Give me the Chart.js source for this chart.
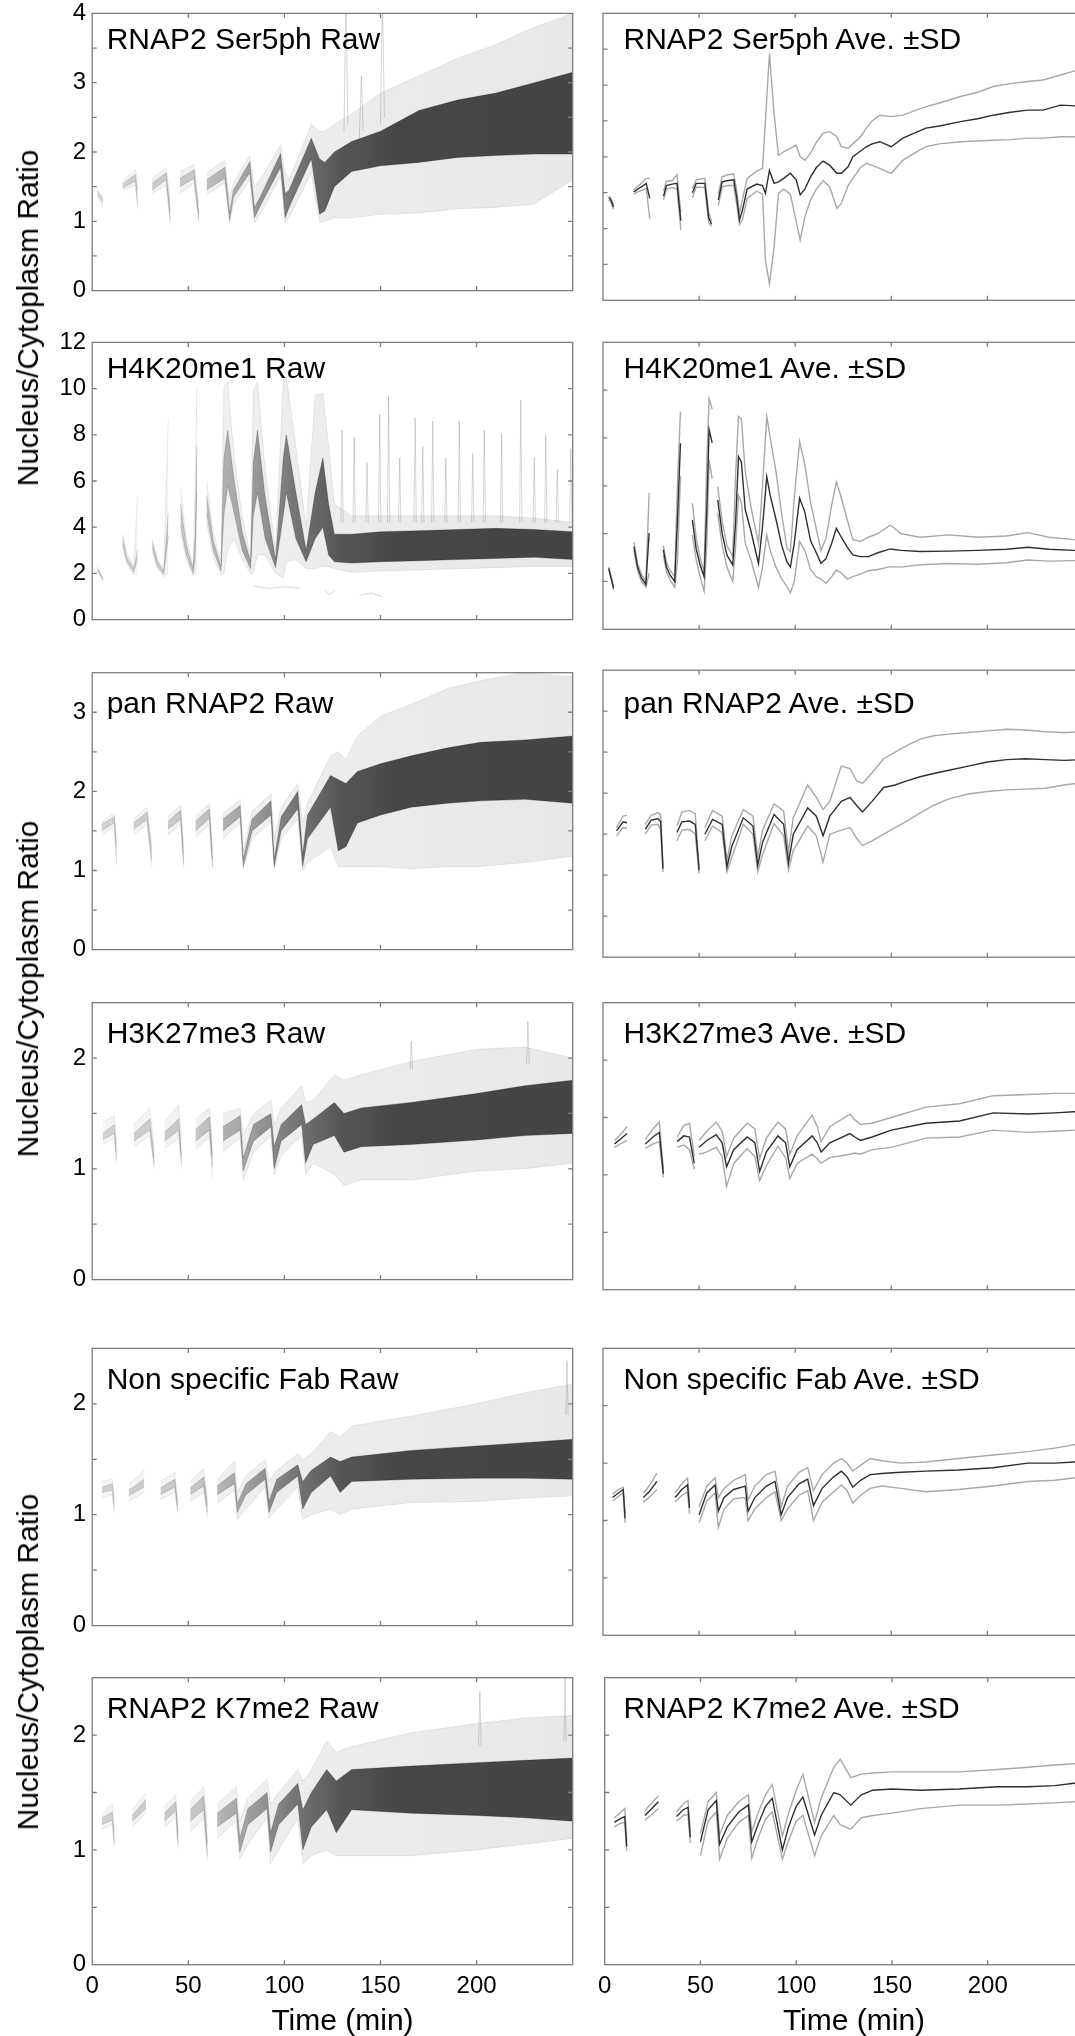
<!DOCTYPE html>
<html><head><meta charset="utf-8">
<script src="https://cdn.jsdelivr.net/npm/chart.js@4.4.1/dist/chart.umd.min.js"></script>
<style>
html,body{margin:0;padding:0;background:#fff;}
body{width:1075px;height:2036px;overflow:hidden;position:relative;}
canvas{position:absolute;}
.t{position:absolute;font-family:"Liberation Sans",Arial,Helvetica,sans-serif;font-size:30px;line-height:30px;color:#000;white-space:nowrap;}
.yt{position:absolute;font-family:"Liberation Sans",Arial,Helvetica,sans-serif;font-size:30px;line-height:30px;color:#000;white-space:nowrap;transform:translate(-50%,-50%) rotate(-90deg);}
.xt{position:absolute;width:300px;text-align:center;font-family:"Liberation Sans",Arial,Helvetica,sans-serif;font-size:30px;line-height:30px;color:#000;white-space:nowrap;}
</style></head><body>
<script>
// ---------- Row 1: RNAP2 Ser5ph ----------
const t1=[3,4,5.5,10, 16,18,20,22.5,24.3,28, 31.5,33,36,38.5,40.5,43, 46.5,48.5,53,55,56.5,58, 60,62,65,68,69.5,71,72.5,75,80,83, 84.5,86.6,89,91.3,94,97.5,100.5,102.6,105,108, 111,114.5,118,121.7,124,127.5,130,134,137,140, 144,150,156,162,168,175,186,195,203,212, 221,229,238,246,250];
const mean1=[1.43,1.40,1.30,null, 1.51,1.55,1.58,1.63,1.42,null, 1.45,1.60,1.62,1.63,1.11,null, 1.50,1.63,1.63,1.15,1.06,null,
1.40,1.65,1.67,1.68,1.45,1.12,1.25,1.55,1.62,1.60, 1.49,1.81,1.63,1.65,1.70,1.77,1.68,1.47,1.55,1.72, 1.85,1.94,1.88,1.77,1.77,1.86,2.00,2.08,2.14,2.18, 2.21,2.14,2.26,2.33,2.40,2.43,2.49,2.53,2.58,2.62, 2.65,2.65,2.72,2.71,2.73];
const upper1=[1.45,1.43,1.33,null, 1.54,1.59,1.63,1.70,1.70,null, 1.52,1.66,1.67,1.75,1.22,null, 1.56,1.68,1.70,1.22,1.10,null,
1.48,1.72,1.75,1.76,1.55,1.21,1.40,1.70,1.80,1.84, 2.50,3.44,2.60,2.02,2.07,2.12,2.16,2.00,1.95,2.05, 2.20,2.33,2.35,2.28,2.14,2.12,2.18,2.28,2.40,2.50, 2.58,2.56,2.58,2.64,2.70,2.75,2.84,2.90,2.98,3.02, 3.05,3.07,3.14,3.20,3.22];
const lower1=[1.40,1.37,1.27,null, 1.48,1.51,1.53,1.56,1.14,null, 1.40,1.55,1.57,1.55,0.98,null, 1.43,1.58,1.57,1.08,1.03,null,
1.32,1.58,1.60,1.60,1.35,1.06,1.12,1.42,1.52,1.48, 0.56,0.23,0.74,1.49,1.55,1.48,1.10,0.84,1.16,1.40, 1.55,1.67,1.58,1.28,1.35,1.60,1.70,1.85,1.91,1.88, 1.84,1.77,1.95,2.05,2.14,2.18,2.21,2.22,2.23,2.24, 2.26,2.26,2.28,2.28,2.29];
const r1T=[2.7,5.7,10, 15.7,22.5,23.6,28, 31.2,38.5,40.6,43, 45.6,53,55.5,57.5, 59.5,69,71.5,73.5,82,84.4,87.4,98,100.4,102.4, 114,118.3,121,126,135,150,170,190,210,230, 250];
const r1EnvHi=[1.45,1.35,null, 1.58,1.75,1.60,null, 1.62,1.78,1.30,null, 1.72,1.82,1.25,null, 1.70,1.88,1.30,1.55,1.95,1.50,1.60,2.10,1.70,1.60, 2.40,2.30,2.30,2.40,2.55,2.85,3.10,3.35,3.55,3.80, 4.00];
const r1CoreHi=[1.43,1.32,null, 1.54,1.68,1.45,null, 1.55,1.70,1.15,null, 1.62,1.74,1.10,null, 1.60,1.78,1.12,1.45,1.86,1.20,1.35,1.98,1.40,1.45, 2.20,1.90,1.85,2.00,2.15,2.30,2.60,2.75,2.85,3.00, 3.15];
const r1CoreLo=[1.38,1.27,null, 1.48,1.58,1.25,null, 1.45,1.60,1.02,null, 1.50,1.62,1.02,null, 1.45,1.62,1.02,1.35,1.70,1.05,1.22,1.78,1.05,1.20, 1.90,1.10,1.15,1.50,1.72,1.80,1.85,1.92,1.95,1.97, 1.97];
const r1EnvLo=[1.35,1.20,null, 1.45,1.52,1.18,null, 1.40,1.52,0.95,null, 1.40,1.55,0.98,null, 1.38,1.55,0.98,1.25,1.60,0.98,1.10,1.65,0.98,1.05, 1.70,0.98,1.00,1.05,1.05,1.10,1.12,1.18,1.20,1.25, 1.60];
const s1T=[131,132,133,134, 139,140,141,142, 150,151,152];
const s1V=[2.3,4.3,2.4,null, 2.2,3.1,2.3,null, 2.4,4.3,2.5];

// ---------- Row 2: H4K20me1 ----------
const t2=[3,5.5,10, 16.1,18,20,22.3,24,28, 31.4,33,35,37.3,38.7,40.3,43, 46.5,48.5,50.5,52.6,54,55.2,56.8,58, 59.7,62,64.5,67.5,69,70.5,72,74,77,80.9, 83,85.2,87,90,93,95.7,97.5,99.5,102.3,105, 108,111,113.4,116,119,121.4,124,127,130,134, 138,143,149.5,155,165,180,195,210,221,232, 245,250];
const mean2=[2.55,1.72,null, 3.46,2.6,2.15,1.88,4.02,null, 3.32,2.6,2.25,2.0,4.5,7.78,null, 4.57,3.35,2.7,2.2,5.0,8.35,7.8,null,
5.4,4.0,3.1,2.69,4.5,7.22,7.0,5.0,4.1,2.75, 4.3,6.38,5.6,4.6,3.5,2.83,2.6,3.6,5.48,4.9, 3.7,3.2,2.76,2.95,3.6,4.22,3.85,3.45,3.11,3.04, 3.04,3.2,3.36,3.3,3.25,3.27,3.3,3.35,3.43,3.35, 3.30,3.29];
const upper2=[2.6,1.78,null, 3.65,2.75,2.3,2.0,5.7,null, 3.5,2.8,2.45,2.2,6.0,9.1,null, 5.27,3.8,3.0,2.4,7.0,9.65,9.2,null,
5.96,4.5,3.5,3.04,6.5,8.9,8.8,6.6,5.1,3.6, 6.0,8.9,8.0,6.6,4.8,3.4,3.25,5.5,7.85,6.9, 5.3,4.2,3.3,3.8,5.2,6.17,5.5,4.6,3.75,3.67, 3.85,4.0,4.36,4.0,3.85,3.95,3.85,3.9,4.04,3.85, 3.75,3.73];
const lower2=[2.5,1.65,null, 3.3,2.45,2.0,1.75,2.35,null, 3.1,2.4,2.05,1.75,2.8,6.4,null, 3.94,2.9,2.2,1.6,3.5,7.1,6.3,null,
4.85,3.5,2.6,2.0,3.5,5.6,5.3,3.6,2.9,1.75, 2.6,3.94,3.3,2.6,2.1,1.8,1.53,2.0,3.67,3.3, 2.5,2.2,2.1,1.92,2.2,2.48,2.35,2.1,2.2,2.31, 2.45,2.5,2.62,2.6,2.7,2.75,2.72,2.78,2.9,2.85, 2.87,2.87];
const r2T=[2.7,5.7,10, 15.7,18,21.6,23.6,28, 31.2,34,37.2,39.6,43, 45.9,49,52.5,53.5,54.5,57, 59.5,63,67,68.5,70.5,73.9,78,82.4,83.8,86, 90,95.4,99.4,101,106,111.3,116,120,123,126, 135,150,170,190,210,230,250];
const r2EnvHi=[2.3,1.8,null, 3.7,2.9,2.3,5.3,null, 3.5,2.6,2.2,8.7,null, 5.7,3.5,2.3,6.0,10.1,null,
6.0,3.8,2.5,10.1,10.3,7.0,4.5,2.7,9.9,10.3, 6.5,3.0,10.4,10.5,7.5,4.0,9.7,9.8,7.5,5.0, 4.5,4.5,4.5,4.5,4.5,4.4,4.2];
const r2CoreHi=[2.25,1.75,null, 3.6,2.7,2.2,3.0,null, 3.35,2.5,2.1,4.6,null, 5.0,3.2,2.2,3.6,7.5,null,
5.4,3.4,2.3,7.0,8.2,6.0,3.8,2.5,6.8,8.2, 5.3,2.6,7.0,8.0,5.5,3.0,5.5,7.0,5.0,3.7, 3.7,3.8,3.85,3.9,3.95,3.9,3.8];
const r2CoreLo=[2.15,1.7,null, 3.3,2.5,2.05,2.6,null, 3.1,2.3,1.95,3.6,null, 4.1,2.8,2.0,2.6,5.5,null,
4.6,3.0,2.1,4.5,5.8,4.6,3.0,2.2,4.5,5.5, 3.5,2.25,4.5,5.5,3.5,2.5,3.5,4.0,2.8,2.5, 2.45,2.5,2.55,2.6,2.65,2.7,2.6];
const r2EnvLo=[2.1,1.65,null, 3.2,2.4,1.95,2.0,null, 2.9,2.2,1.85,2.0,null, 3.8,2.6,1.9,2.0,2.5,null,
4.2,2.7,1.9,2.0,3.0,3.5,2.6,2.0,2.0,2.8, 2.8,2.0,1.8,2.5,2.6,2.2,2.2,2.3,2.3,2.2, 2.05,2.1,2.15,2.2,2.25,2.3,2.3];
const s2T=[84,92,100,108,109, 121,123.3,126,127, 139,145,151,152, 129.4,130,130.6,131, 135.7,136.3,136.9,137.5, 142.4,143,143.6,144, 149,149.6,150.2,150.8, 153.6,154.2,154.8,155.4, 159.4,160,160.6,161.2, 167.4,168,168.6,169.2, 171.4,172,172.6,173.2, 176.6,177.2,177.8,178.4, 183.4,184,184.6,185.2, 190.4,191,191.6,192.2, 197.4,198,198.6,199.2, 203.4,204,204.6,205.2, 212.4,213,213.6,214.2, 222.4,223,223.6,224.2, 229.4,230,230.6,231.2, 235.4,236,236.6,237.2, 241.4,242,242.6,243.2, 248.4,249,249.6];
const s2V=[1.45,1.35,1.42,1.35,null, 1.3,1.08,1.25,null, 1.05,1.15,1.0,null, 4.2,8.2,4.2,null, 4.2,7.9,4.2,null, 4.2,6.8,4.2,null, 4.2,8.9,4.2,null, 4.2,9.66,4.2,null, 4.2,7.0,4.2,null, 4.2,8.75,4.2,null, 4.2,7.5,4.2,null, 4.2,8.6,4.2,null, 4.2,7.0,4.2,null, 4.2,8.6,4.2,null, 4.2,7.2,4.2,null, 4.2,8.2,4.2,null, 4.2,8.05,4.2,null, 4.2,9.5,4.2,null, 4.2,7.0,4.2,null, 4.2,8.0,4.2,null, 4.2,6.5,4.2,null, 4.2,7.4,4.2];

// ---------- Row 3: pan RNAP2 ----------
const t3=[7,10.5,12.5,17, 22,25,28.5,30,31.2,35, 38.5,41,45,48,50,51.5, 53,57,62,64.5,67,73,78,80.5,83,89, 94,96.5,99,106.5,111,114.5,118,124,128.5,132, 135,140,146,152,158,165,172,180,190,200, 210,220,230,240,250];
const mean3=[1.54,1.65,1.64,null, 1.56,1.67,1.69,1.65,1.08,null, 1.52,1.65,1.66,1.62,1.06,null,
1.50,1.68,1.62,1.10,1.35,1.70,1.60,1.12,1.40,1.74, 1.62,1.15,1.50,1.82,1.72,1.48,1.72,1.90,1.95,1.85, 1.77,1.90,2.07,2.10,2.15,2.20,2.24,2.28,2.33,2.38, 2.41,2.42,2.41,2.40,2.41];
const upper3=[1.58,1.72,1.73,null, 1.62,1.73,1.76,1.74,1.12,null, 1.60,1.77,1.79,1.75,1.10,null,
1.58,1.79,1.72,1.18,1.48,1.80,1.72,1.22,1.55,1.87, 1.78,1.28,1.70,2.10,1.95,1.80,1.90,2.33,2.30,2.15, 2.12,2.25,2.42,2.50,2.58,2.66,2.70,2.72,2.74,2.76, 2.78,2.77,2.75,2.74,2.75];
const lower3=[1.48,1.58,1.57,null, 1.50,1.61,1.62,1.56,1.04,null, 1.42,1.55,1.56,1.50,1.02,null,
1.42,1.60,1.52,1.04,1.22,1.62,1.50,1.04,1.25,1.63, 1.48,1.06,1.30,1.60,1.48,1.16,1.50,1.55,1.58,1.45, 1.36,1.42,1.50,1.58,1.66,1.76,1.85,1.93,1.99,2.02, 2.04,2.05,2.06,2.10,2.13];
const r3T=[4.8,11.5,12.7,17, 21.5,28.5,31,35, 39.4,46,47.6,50, 53.7,61,62.6,65, 68,77,78.6,83.2,93,94.7,98.3,107,109.5,112, 124,128,132,138,150,166,185,202,225,250];
const r3EnvHi=[1.62,1.72,1.40,null, 1.65,1.80,1.35,null, 1.68,1.82,1.30,null, 1.68,1.85,1.25,null, 1.72,1.90,1.25,1.75,1.97,1.40,1.80,2.10,1.60,1.85, 2.45,2.50,2.40,2.70,2.95,3.10,3.30,3.40,3.50,3.45];
const r3CoreHi=[1.58,1.68,1.30,null, 1.60,1.74,1.25,null, 1.62,1.76,1.20,null, 1.62,1.78,1.15,null, 1.65,1.82,1.15,1.65,1.88,1.15,1.68,2.00,1.20,1.70, 2.20,2.15,2.10,2.25,2.35,2.45,2.55,2.62,2.65,2.70];
const r3CoreLo=[1.50,1.60,1.15,null, 1.52,1.64,1.12,null, 1.52,1.65,1.08,null, 1.50,1.66,1.06,null, 1.50,1.68,1.05,1.50,1.70,1.05,1.50,1.78,1.05,1.40, 1.80,1.25,1.30,1.60,1.70,1.80,1.85,1.88,1.90,1.85];
const r3EnvLo=[1.45,1.55,1.08,null, 1.45,1.58,1.05,null, 1.45,1.58,1.04,null, 1.42,1.58,1.02,null, 1.40,1.60,1.02,1.40,1.62,1.02,1.40,1.65,1.00,1.10, 1.30,1.05,1.05,1.05,1.05,1.02,1.05,1.05,1.10,1.18];
const s3T=[];
const s3V=[];

// ---------- Row 4: H3K27me3 ----------
const t4=[6,9,12.5,17, 22,26,29.3,31.4,35, 38.6,42,45,47.5,48.8, 50,54,58.9,62,64.3,68,75,79,81.5,85, 91,95,97.2,101,108.8,111.5,113.5,118,128.5,131, 134,140,150,168,185.5,203,221,235,245,250];
const mean4=[1.27,1.31,1.36,null, 1.27,1.33,1.37,1.01,null, 1.29,1.34,1.33,1.10,null, 1.24,1.30,1.35,1.28,1.07,1.22,1.33,1.28,1.03,1.20, 1.34,1.28,1.07,1.22,1.34,1.28,1.20,1.28,1.36,1.33, 1.30,1.33,1.39,1.45,1.47,1.54,1.53,1.54,1.55,1.55];
const upper4=[1.30,1.35,1.42,null, 1.31,1.40,1.46,1.05,null, 1.33,1.43,1.45,1.16,null, 1.30,1.38,1.46,1.38,1.16,1.32,1.45,1.40,1.14,1.32, 1.46,1.40,1.18,1.34,1.52,1.42,1.29,1.42,1.53,1.48, 1.44,1.45,1.50,1.59,1.62,1.69,1.70,1.71,1.71,1.71];
const lower4=[1.24,1.27,1.30,null, 1.23,1.27,1.29,0.98,null, 1.24,1.26,1.22,1.05,null, 1.18,1.20,1.24,1.16,0.90,1.10,1.23,1.16,0.95,1.08, 1.25,1.15,0.97,1.10,1.18,1.14,1.10,1.15,1.18,1.19, 1.18,1.22,1.24,1.32,1.33,1.39,1.37,1.38,1.39,1.39];
const r4T=[5.5,11.5,12.7,17, 21.6,30,32.3,35, 37.6,45,46.5,50, 53.7,61,62.6,65, 68,77,78.6,83.9,93,94.7,98.3,109,111,115, 126,131,140,166,200,225,250];
const r4EnvHi=[1.42,1.48,1.25,null, 1.40,1.55,1.20,null, 1.42,1.58,1.25,null, 1.45,1.55,1.25,null, 1.50,1.55,1.30,1.50,1.62,1.40,1.55,1.75,1.60,1.62, 1.85,1.80,1.85,1.97,2.08,2.10,2.00];
const r4CoreHi=[1.32,1.40,1.15,null, 1.32,1.45,1.10,null, 1.33,1.45,1.12,null, 1.35,1.47,1.12,null, 1.38,1.48,1.10,1.40,1.50,1.20,1.40,1.58,1.40,1.45, 1.60,1.50,1.55,1.60,1.68,1.75,1.80];
const r4CoreLo=[1.26,1.32,1.08,null, 1.25,1.35,1.03,null, 1.25,1.35,1.05,null, 1.25,1.35,1.02,null, 1.25,1.35,0.98,1.25,1.38,1.00,1.25,1.40,1.05,1.22, 1.30,1.15,1.20,1.22,1.26,1.30,1.32];
const r4EnvLo=[1.22,1.28,1.05,null, 1.20,1.30,1.00,null, 1.18,1.28,1.00,null, 1.18,1.28,0.92,null, 1.15,1.28,0.90,1.15,1.30,0.95,1.12,1.30,0.95,1.05, 0.95,0.85,0.90,0.90,0.98,1.00,1.05];
const s4T=[165.4,166,166.6,167.2, 226,226.7,227.4];
const s4V=[1.9,2.15,1.9,null, 1.95,2.33,1.95];

// ---------- Row 5: Non specific Fab ----------
const t5=[5,8,10.5,11.5,16, 21,24,28,32, 37.5,41,44,45,47.5, 50,54,58.3,60,63,68,74,75.5,79,85, 89.5,92.7,96,102,106.5,109.5,114,120,124,127, 130,134,139,145,155,168,185,203,221,235, 245,250];
const mean5=[1.20,1.24,1.27,1.02,null, 1.20,1.25,1.34,null, 1.20,1.27,1.31,1.11,null, 1.05,1.24,1.31,1.08,1.20,1.27,1.30,1.08,1.20,1.30, 1.34,1.05,1.20,1.32,1.36,1.13,1.28,1.38,1.43,1.38, 1.29,1.35,1.40,1.41,1.42,1.43,1.44,1.46,1.50,1.50, 1.51,1.51];
const upper5=[1.23,1.27,1.29,1.06,null, 1.24,1.30,1.41,null, 1.24,1.32,1.37,1.16,null, 1.12,1.30,1.37,1.20,1.28,1.35,1.40,1.18,1.30,1.40, 1.43,1.12,1.30,1.42,1.46,1.26,1.40,1.50,1.54,1.50, 1.43,1.48,1.54,1.52,1.50,1.51,1.54,1.57,1.60,1.63, 1.66,1.66];
const lower5=[1.17,1.21,1.24,0.98,null, 1.16,1.20,1.27,null, 1.16,1.22,1.25,1.06,null, 0.98,1.17,1.24,0.94,1.10,1.19,1.20,1.00,1.10,1.20, 1.25,1.00,1.10,1.22,1.26,1.00,1.16,1.25,1.31,1.26, 1.15,1.22,1.28,1.30,1.28,1.25,1.27,1.30,1.34,1.35, 1.37,1.37];
const r5T=[5,10.5,11.5,16, 19,27,32, 35.5,43,44.5,47.5, 51,58,60,62.5, 65,74,75.5,80,90,92,96,107,109.5,114, 124,129,135,166,200,225,250];
const r5EnvHi=[1.30,1.32,1.15,null, 1.28,1.40,null, 1.30,1.38,1.12,null, 1.30,1.42,1.15,null, 1.32,1.48,1.20,1.35,1.50,1.30,1.40,1.55,1.50,1.55, 1.75,1.70,1.80,1.89,2.00,2.10,2.18];
const r5CoreHi=[1.25,1.28,1.10,null, 1.22,1.32,null, 1.24,1.32,1.08,null, 1.24,1.34,1.08,null, 1.26,1.38,1.10,1.28,1.42,1.12,1.32,1.45,1.30,1.40, 1.52,1.48,1.52,1.58,1.62,1.65,1.68];
const r5CoreLo=[1.20,1.22,1.05,null, 1.17,1.25,null, 1.18,1.25,1.04,null, 1.18,1.26,1.02,null, 1.18,1.28,1.02,1.18,1.32,1.02,1.20,1.35,1.05,1.20, 1.35,1.20,1.30,1.32,1.33,1.33,1.32];
const r5EnvLo=[1.15,1.18,1.02,null, 1.12,1.20,null, 1.14,1.20,1.02,null, 1.12,1.20,0.98,null, 1.10,1.22,0.96,1.05,1.25,0.97,1.05,1.25,0.96,1.00, 1.05,1.00,1.05,1.11,1.12,1.15,1.17];
const s5T=[246.4,247,247.6];
const s5V=[1.9,2.39,1.9];

// ---------- Row 6: RNAP2 K7me2 ----------
const t6=[5,8,10.5,11.5,16, 21,24,28,32, 37.5,41,43.5,44.7,47.5, 50,54,58.3,60,64,70,75,76.8,80,84, 87.5,92.8,96,100,103.5,109.6,113,119.6,123,128.5, 134,140,150,165,185,205,221,235,245,250];
const mean6=[1.24,1.27,1.29,1.03,null, 1.30,1.35,1.42,null, 1.29,1.35,1.37,1.11,null, 1.07,1.35,1.43,1.05,1.20,1.33,1.39,1.07,1.22,1.38, 1.45,1.00,1.20,1.38,1.46,1.13,1.30,1.50,1.48,1.39, 1.48,1.52,1.53,1.52,1.53,1.55,1.55,1.56,1.58,1.58];
const upper6=[1.28,1.32,1.36,1.07,null, 1.34,1.40,1.47,null, 1.33,1.40,1.43,1.16,null, 1.14,1.42,1.50,1.13,1.30,1.42,1.48,1.16,1.32,1.48, 1.57,1.12,1.32,1.52,1.66,1.24,1.45,1.72,1.79,1.63, 1.66,1.67,1.68,1.68,1.68,1.70,1.72,1.74,1.75,1.75];
const lower6=[1.20,1.23,1.24,0.99,null, 1.26,1.30,1.36,null, 1.25,1.30,1.31,1.06,null, 0.95,1.25,1.33,0.92,1.10,1.24,1.30,0.93,1.10,1.27, 1.33,0.92,1.08,1.25,1.30,0.95,1.12,1.30,1.22,1.18, 1.28,1.30,1.32,1.36,1.39,1.39,1.40,1.41,1.42,1.42];
const r6T=[5,10.5,11.5,16, 20.8,28,32, 37.5,43.5,44.7,47.5, 51,58,60,62.5, 65,75,76.8,81,91,92.8,97,107,109.6,114, 122,127,135,166,200,225,250];
const r6EnvHi=[1.32,1.40,1.15,null, 1.35,1.50,null, 1.38,1.48,1.15,null, 1.42,1.55,1.20,null, 1.40,1.55,1.25,1.45,1.62,1.40,1.50,1.70,1.60,1.70, 1.95,1.85,1.90,2.02,2.10,2.15,2.17];
const r6CoreHi=[1.28,1.33,1.08,null, 1.30,1.44,null, 1.32,1.42,1.10,null, 1.35,1.47,1.05,null, 1.32,1.45,1.10,1.36,1.50,1.15,1.40,1.58,1.35,1.50, 1.70,1.60,1.70,1.73,1.76,1.78,1.80];
const r6CoreLo=[1.22,1.26,1.04,null, 1.25,1.36,null, 1.25,1.34,1.05,null, 1.25,1.35,0.95,null, 1.20,1.32,0.98,1.22,1.36,0.98,1.22,1.40,1.00,1.20, 1.35,1.15,1.35,1.32,1.30,1.28,1.25];
const r6EnvLo=[1.18,1.22,1.02,null, 1.20,1.32,null, 1.20,1.28,1.00,null, 1.15,1.28,0.90,null, 1.10,1.25,0.92,1.05,1.28,0.88,1.00,1.28,0.88,0.95, 1.00,0.95,0.95,0.95,1.00,1.05,1.10];
const s6T=[201,201.7,202.4,203, 245.4,246,246.6];
const s6V=[1.9,2.38,1.9,null, 1.95,2.49,1.95];

// ---------- axis settings & labels ----------
const names=['RNAP2 Ser5ph','H4K20me1','pan RNAP2','H3K27me3','Non specific Fab','RNAP2 K7me2'];
const yMax=[4,12,3.5,2.5,2.5,2.5];
const yStep=[0.5,2,0.5,0.5,0.5,0.5];
const xMax=250, xStep=50;
const yTitle='Nucleus/Cytoplasm Ratio';
const xTitle='Time (min)';

const rows=[
 {ave:[t1,mean1,upper1,lower1], raw:[r1T,r1EnvHi,r1CoreHi,r1CoreLo,r1EnvLo], sp:[s1T,s1V]},
 {ave:[t2,mean2,upper2,lower2], raw:[r2T,r2EnvHi,r2CoreHi,r2CoreLo,r2EnvLo], sp:[s2T,s2V]},
 {ave:[t3,mean3,upper3,lower3], raw:[r3T,r3EnvHi,r3CoreHi,r3CoreLo,r3EnvLo], sp:[s3T,s3V]},
 {ave:[t4,mean4,upper4,lower4], raw:[r4T,r4EnvHi,r4CoreHi,r4CoreLo,r4EnvLo], sp:[s4T,s4V]},
 {ave:[t5,mean5,upper5,lower5], raw:[r5T,r5EnvHi,r5CoreHi,r5CoreLo,r5EnvLo], sp:[s5T,s5V]},
 {ave:[t6,mean6,upper6,lower6], raw:[r6T,r6EnvHi,r6CoreHi,r6CoreLo,r6EnvLo], sp:[s6T,s6V]}
];

// ---------- layout (pixels) ----------
const FONT='"Liberation Sans", Arial, Helvetica, sans-serif';
const TICK_FONT={family:FONT,size:24};
const plotW=480.5, plotH=287;
const colX=[92.2,603];
const rowTop=[13.3,342.3,672.7,1002.7,1348.3,1677.7];
const rightShift=[0,0,-2.5,0,0,0];
const titleBase=[36,36,40.5,40.5,41.5,40.5];

const framePlugin={id:'frame',afterDatasetsDraw(chart){
  const {ctx,chartArea:a,scales:{x,y}}=chart;
  ctx.save();
  ctx.strokeStyle='#7d7d7d'; ctx.lineWidth=1.3;
  ctx.strokeRect(a.left,a.top,a.right-a.left,a.bottom-a.top);
  const L=4.5;
  ctx.beginPath();
  x.ticks.forEach(t=>{ if(t.value<=x.min||t.value>=x.max) return; const p=x.getPixelForValue(t.value);
    ctx.moveTo(p,a.top); ctx.lineTo(p,a.top+L); ctx.moveTo(p,a.bottom); ctx.lineTo(p,a.bottom-L);});
  y.ticks.forEach(t=>{ if(t.value<=y.min||t.value>=y.max) return; const p=y.getPixelForValue(t.value);
    ctx.moveTo(a.left,p); ctx.lineTo(a.left+L,p); ctx.moveTo(a.right,p); ctx.lineTo(a.right-L,p);});
  ctx.stroke(); ctx.restore();
}};

function xy(T,V){return T.map((t,i)=>({x:t,y:V[i]}));}
function grad(stops){return function(c){const ch=c.chart; if(!ch.chartArea) return stops[0][1];
  const xs=ch.scales.x; const g=ch.ctx.createLinearGradient(xs.getPixelForValue(0),0,xs.getPixelForValue(xMax),0);
  stops.forEach(s=>g.addColorStop(s[0]/xMax,s[1])); return g;};}
const coreFill=grad([[0,'rgba(0,0,0,0.14)'],[55,'rgba(0,0,0,0.18)'],[80,'rgba(0,0,0,0.32)'],[105,'rgba(0,0,0,0.5)'],[130,'rgba(0,0,0,0.64)'],[160,'rgba(0,0,0,0.70)'],[250,'rgba(0,0,0,0.70)']]);
const envFill=grad([[0,'rgba(0,0,0,0.04)'],[100,'rgba(0,0,0,0.07)'],[250,'rgba(0,0,0,0.09)']]);
const coreEdge=grad([[0,'rgba(0,0,0,0.10)'],[80,'rgba(0,0,0,0.18)'],[130,'rgba(0,0,0,0.25)'],[250,'rgba(0,0,0,0.25)']]);

function makePanel(ci,ri,datasets){
  const isLeft=ci===0, isBottom=ri===5;
  const px=colX[ci], py=rowTop[ri]+(isLeft?0:rightShift[ri]);
  const cl=Math.floor(px-(isLeft?72:12)); const padL=px-cl;
  const ct=Math.floor(py-20); const padT=py-ct;
  const w=Math.ceil(padL+plotW+16); const padR=w-padL-plotW;
  const h=Math.ceil(padT+plotH+(isBottom?60:10)); const padB=h-padT-plotH;
  const c=document.createElement('canvas');
  c.width=w; c.height=h; c.style.left=cl+'px'; c.style.top=ct+'px'; c.style.width=w+'px'; c.style.height=h+'px';
  document.body.appendChild(c);
  new Chart(c,{type:'line',data:{datasets},options:{
    responsive:false,maintainAspectRatio:false,animation:false,devicePixelRatio:1,events:[],
    layout:{padding:{top:padT,right:padR,left:0,bottom:0}},
    elements:{point:{radius:0},line:{tension:0}},
    plugins:{legend:{display:false},tooltip:{enabled:false}},
    scales:{
      x:{type:'linear',min:0,max:xMax,
         ticks:{stepSize:xStep,display:isBottom,autoSkip:false,maxRotation:0,color:'#000',font:TICK_FONT,padding:7,
                callback:v=>v===xMax?'':String(v)},
         grid:{display:false,drawTicks:false},border:{display:false},afterFit:s=>{s.height=padB;}},
      y:{type:'linear',min:0,max:yMax[ri],
         ticks:{stepSize:yStep[ri],display:isLeft,color:'#000',font:TICK_FONT,padding:6,
                callback:v=>Number.isInteger(v)?String(v):''},
         grid:{display:false,drawTicks:false},border:{display:false},afterFit:s=>{s.width=padL;}}
    }},plugins:[framePlugin]});
}

function addText(cls,txt,left,top){const d=document.createElement('div');d.className=cls;d.textContent=txt;d.style.left=left+'px';d.style.top=top+'px';document.body.appendChild(d);return d;}

rows.forEach((r,ri)=>{
  const [rT,eH,cH,cL,eL]=r.raw; const [sT,sV]=r.sp;
  const line={pointRadius:0,spanGaps:false,tension:0};
  makePanel(0,ri,[
    Object.assign({data:xy(sT,sV),borderColor:'rgba(0,0,0,0.16)',borderWidth:1,fill:false},line),
    Object.assign({data:xy(rT,cH),borderColor:coreEdge,borderWidth:1,fill:'+1',backgroundColor:coreFill},line),
    Object.assign({data:xy(rT,cL),borderColor:coreEdge,borderWidth:1,fill:false},line),
    Object.assign({data:xy(rT,eH),borderColor:'rgba(0,0,0,0.08)',borderWidth:1,fill:'+1',backgroundColor:envFill},line),
    Object.assign({data:xy(rT,eL),borderColor:'rgba(0,0,0,0.08)',borderWidth:1,fill:false},line)
  ]);
  const [T,M,U,Lo]=r.ave;
  makePanel(1,ri,[
    Object.assign({data:xy(T,M),borderColor:'#2f2f2f',borderWidth:1.4,fill:false},line),
    Object.assign({data:xy(T,U),borderColor:'#a8a8a8',borderWidth:1.4,fill:false},line),
    Object.assign({data:xy(T,Lo),borderColor:'#a8a8a8',borderWidth:1.4,fill:false},line)
  ]);
  const tt=rowTop[ri]+titleBase[ri]-25.4;
  addText('t',names[ri]+' Raw',colX[0]+14.5,tt);
  addText('t',names[ri]+' Ave. \u00B1SD',colX[1]+20.5,tt);
});

[318,989,1662].forEach(cy=>addText('yt',yTitle,28,cy));
addText('xt',xTitle,342.5-150,2004.6);
addText('xt',xTitle,854-150,2004.6);
</script>
</body></html>
